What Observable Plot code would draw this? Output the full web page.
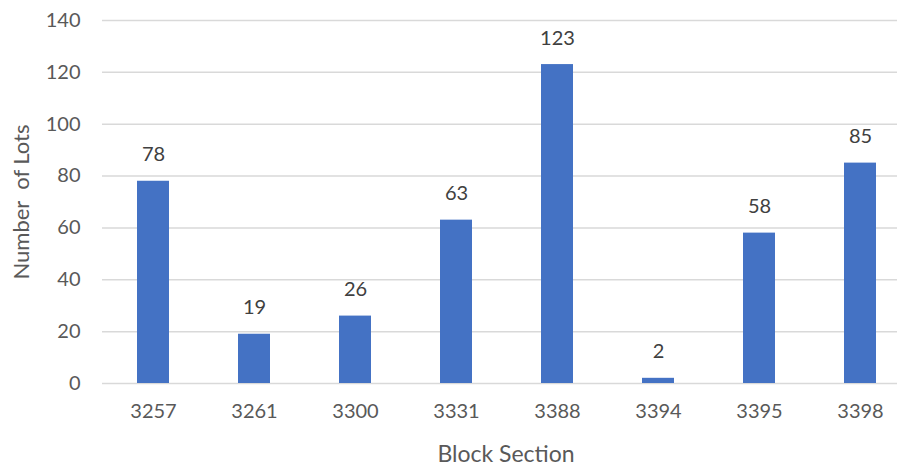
<!DOCTYPE html>
<html>
<head>
<meta charset="utf-8">
<script src="https://cdn.jsdelivr.net/npm/d3@7"></script>
<script src="https://cdn.jsdelivr.net/npm/@observablehq/plot@0.6"></script>
<style>
  html, body { margin: 0; padding: 0; background: #fff; }
  #chart svg { display: block; }
</style>
</head>
<body>
<div id="chart"></div>
<script>
const categories = ["3257", "3261", "3300", "3331", "3388", "3394", "3395", "3398"];
const values = [78, 19, 26, 63, 123, 2, 58, 85];
const yTicks = [0, 20, 40, 60, 80, 100, 120, 140];

const data = categories.map((c, i) => ({block: c, lots: values[i]}));

const chart = Plot.plot({
  width: 900,
  height: 467,
  marginLeft: 102,
  marginRight: 3,
  marginTop: 20,
  marginBottom: 84,
  style: {fontFamily: "Lato, sans-serif", fontSize: "20px", color: "#595959", background: "#fff"},
  x: {domain: categories, range: [102, 910], paddingInner: 0.685, paddingOuter: 0.336, label: null},
  y: {domain: [0, 140], ticks: yTicks, label: null},
  marks: [
    Plot.gridY(yTicks, {stroke: "#d9d9d9", strokeWidth: 1.5, strokeOpacity: 1}),
    Plot.axisY(yTicks, {tickSize: 0, tickPadding: 22, fontSize: 20, fill: "#595959", label: null}),
    Plot.axisX({tickSize: 0, tickPadding: 20, fontSize: 20, fill: "#595959", label: null}),
    Plot.barY(data, {x: "block", y: "lots", fill: "#4472C4"}),
    Plot.text(data, {x: "block", y: "lots", text: d => String(d.lots), lineAnchor: "bottom", dy: -20, fontSize: 20, fill: "#404040"}),
    Plot.text(["Number  of Lots"], {frameAnchor: "left", textAnchor: "middle", dx: -81, rotate: -90, fontSize: 22, fill: "#595959", text: d => d, style: "white-space: pre"}),
    Plot.text(["Block Section"], {frameAnchor: "bottom", dx: 6, dy: 78, fontSize: 23, fill: "#595959", text: d => d})
  ]
});
document.getElementById("chart").appendChild(chart);
</script>
</body>
</html>
